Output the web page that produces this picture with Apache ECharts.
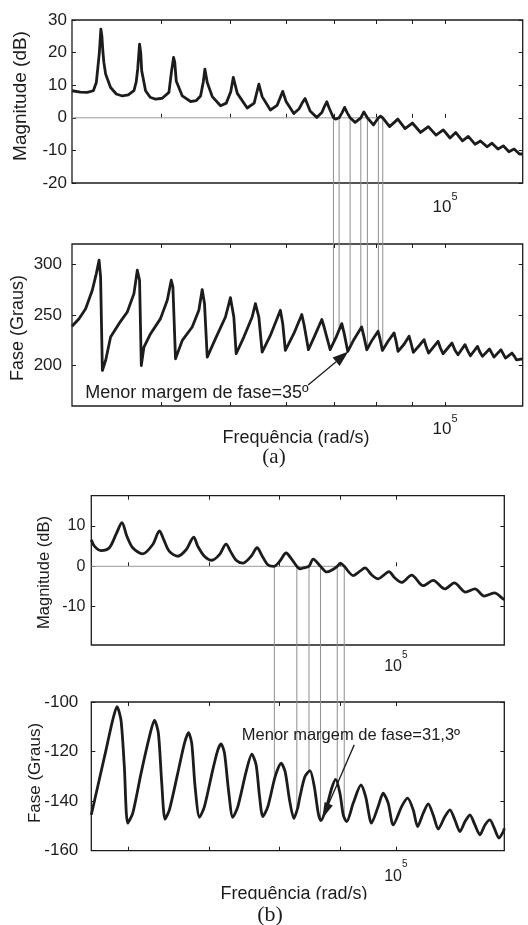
<!DOCTYPE html>
<html><head><meta charset="utf-8">
<script src="https://cdn.jsdelivr.net/npm/echarts@6/dist/echarts.min.js"></script>
<style>html,body{margin:0;padding:0;background:#fff}#c{width:528px;height:925px}</style>
</head><body><div id="c"></div>
<script>
// ---------- data (frequency in rad/s, value) ----------
const rangeA = [30000, 128500];
const rangeB = [55900, 123000];
const xTicksA = [40000, 50000, 60000, 70000, 80000, 90000, 100000];
const xTicksB = [60000, 70000, 80000, 90000, 100000];
const yTicksMagA = [-20, -10, 0, 10, 20, 30];
const yTicksPhaseA = [200, 250, 300];
const yTicksMagB = [-10, 0, 10];
const yTicksPhaseB = [-160, -140, -120, -100];
const yRangeMagA = [-20, 30];
const yRangePhaseA = [160, 320];
const yRangeMagB = [-19.5, 17.5];
const yRangePhaseB = [-160, -100];

const magA = [[30000,8.3],[30820,7.9],[31520,7.8],[32140,8.3],[32450,10.8],[32610,15.4],[32770,20],[32930,27.2],[33040,25],[33140,20.5],[33250,17],[33440,13.4],[33980,9.3],[34610,7.3],[35290,6.7],[35970,7.0],[36640,8.3],[36910,11],[37090,15],[37310,22.6],[37450,20],[37570,14.4],[38040,8.3],[38610,6.3],[39290,5.7],[40140,6.0],[41020,7.8],[41370,14.4],[41640,18.5],[41800,17],[42000,11.3],[42830,6.7],[43990,5.0],[44810,5.3],[45430,6.7],[45830,11],[46070,14.9],[46420,10.8],[47180,6.5],[48460,3.7],[49360,4.5],[50080,8],[50490,12.4],[51150,7.5],[52810,3.0],[54010,4.5],[54830,10.3],[55420,6.5],[56910,2.4],[58150,3.8],[59230,8.1],[59870,5],[61380,1.3],[62450,2.8],[63160,4.8],[63660,5.9],[64180,4.0],[64700,2.1],[66110,0.1],[67190,1.6],[67800,3.6],[68280,4.9],[68800,3.0],[69760,0],[70250,-0.4],[71050,0],[71740,1.6],[72320,3.2],[72910,1.6],[73620,0],[74820,-1.4],[76200,0],[76960,1.8],[77840,0],[79370,-2.2],[80650,0],[81220,0.5],[81800,0],[83620,-2.7],[85870,-0.4],[87900,-3.3],[90000,-1.6],[92420,-4.5],[94760,-2.7],[97140,-5.3],[99450,-3.7],[101630,-6.2],[103510,-4.5],[105800,-7.1],[107800,-5.7],[110160,-8.1],[112130,-7.1],[114510,-8.9],[116360,-7.8],[118640,-9.6],[120690,-8.6],[122930,-10.4],[125000,-9.6],[127150,-11.1],[128500,-11.1]];

const phaseA = [[30000,238.7],[30690,246.2],[31350,256.1],[32030,274.3],[32450,290.8],[32740,304],[32900,287.5],[33090,195.1],[33440,205],[33980,228.1],[34910,241.3],[35860,252.9],[36640,271],[37040,294.1],[37310,284.2],[37520,200],[37840,218.2],[38660,231.4],[39920,246.3],[40800,264.4],[41330,284.2],[41550,277.6],[41900,206.6],[42830,224.8],[44220,238],[45180,254.5],[45670,275],[46010,261.1],[46420,208.3],[47670,226.5],[49230,247.9],[50030,267],[50580,247.9],[50960,211.6],[52240,228.1],[53660,247.9],[54230,261.1],[54830,247.9],[55420,213.3],[56910,229.7],[58780,254.5],[59230,241.3],[59730,214.9],[61380,231.4],[62990,250.4],[63460,240],[64350,215.6],[65540,228],[67190,245.4],[67690,238],[69020,215.6],[70370,228],[71670,241.4],[72200,232],[73070,213.9],[74570,226],[76400,238.1],[76890,230],[77690,215.6],[79030,225],[80570,233.8],[81090,226],[81700,214.9],[83210,224],[84840,232.2],[85390,224],[85940,213.9],[87620,221],[89040,228.9],[89620,222],[90280,212.9],[91970,219.5],[93460,225.5],[94070,219],[94830,212.3],[97770,223.9],[98560,217],[99360,211.6],[102280,222.2],[103280,215],[104280,210.6],[106660,220.6],[107700,214],[108570,209.6],[111050,218.9],[111950,213],[112850,209],[115430,216.3],[116360,212],[117120,208.3],[119790,215.6],[120760,211],[121550,207.3],[124120,212.3],[125120,209],[125930,205.5],[128500,206.5]];

const magB = [[55900,6.6],[56230,5.0],[56940,3.9],[57860,4.6],[58600,7.9],[59270,10.8],[59840,7.4],[60500,4.6],[61660,3.1],[62860,5.4],[63670,8.8],[64190,6.6],[64890,3.7],[65930,2.5],[66990,4.1],[67980,7.2],[68500,5.0],[69380,2.5],[70360,1.5],[71400,2.9],[72310,5.5],[72920,3.7],[73710,1.5],[74650,0.8],[75850,2.5],[76720,4.6],[77420,2.7],[78310,0.4],[79210,0.0],[80080,1.2],[81090,3.3],[81980,1.7],[82770,0],[83260,-0.6],[84000,-0.3],[84710,0],[85400,1.8],[86590,0],[87620,-1.4],[88500,-0.9],[89410,0],[89960,0.8],[90610,0],[92180,-2.3],[93370,-1.2],[94270,-0.4],[95460,-2.1],[96670,-3.1],[97790,-2.1],[98670,-1.3],[99810,-2.9],[101100,-4.0],[103050,-2.2],[105350,-4.8],[107390,-3.5],[109810,-5.6],[111790,-4.1],[114250,-6.4],[116290,-5.6],[118380,-7.4],[120670,-6.6],[122760,-8.1],[123000,-8.2]];

const phaseB = [[55900,-145.5],[56590,-134.1],[57490,-119.4],[58230,-107.3],[58710,-101.9],[59160,-107.3],[59540,-126.1],[59920,-148.9],[60500,-144.9],[61470,-128.8],[62460,-114],[63060,-107.3],[63540,-112.6],[63950,-132.8],[64350,-147.3],[64890,-143.5],[65930,-128.8],[66780,-116.7],[67300,-112.4],[67720,-116.7],[68150,-134.1],[68730,-146.5],[69380,-142.2],[70490,-127.4],[71170,-119.4],[71620,-116.9],[72090,-120.7],[72640,-135.5],[73240,-146.5],[73950,-142.2],[75130,-128.1],[75950,-121],[76580,-125.4],[77080,-138.2],[77560,-146.2],[78310,-142.2],[79410,-130.1],[80320,-124.7],[80940,-128.1],[81620,-139.5],[82300,-147],[82930,-142.5],[83260,-138.2],[84060,-130.1],[84870,-127.7],[85570,-134.1],[86220,-144.9],[86670,-147.9],[87620,-142.2],[88460,-134.8],[89140,-131.2],[89870,-136.8],[90440,-145.6],[91030,-148.3],[92180,-140.8],[93550,-133.5],[94390,-138.2],[95460,-148.9],[96670,-142.2],[97600,-136.8],[98540,-140.8],[99490,-149.6],[101100,-142.2],[102260,-138.8],[103360,-143.5],[104230,-150.3],[105350,-144.9],[106370,-141.1],[107390,-145.6],[108420,-151.3],[109810,-146.2],[110870,-143.5],[111930,-147.6],[113010,-152.3],[114090,-148.3],[115190,-145.6],[116290,-149.6],[117410,-153.6],[118540,-149.6],[119680,-147.6],[120670,-150.9],[121760,-154.9],[122760,-152.3],[123000,-151]];

// 0 dB crossing frequencies (vertical guide lines)
const crossA = [69760, 71050, 73620, 76200, 77840, 80650, 81800];
const crossB = [79290, 82770, 84710, 86590, 89410, 90610];

// annotations: [freq, value]
const noteTextA = 'Menor margem de fase=35º';
const noteAtA = [31320, 173.2];
const arrowTailA = [64290, 180.8];
const arrowTipA = [73210, 213.9];
const noteTextB = 'Menor margem de fase=31,3º';
const noteAtB = [74510, -113.3];
const arrowTailB = [92350, -117.3];
const arrowTipB = [86900, -147];

// ---------- chart ----------
const FONT = '"Liberation Sans", Arial, Helvetica, sans-serif';
const INK = '#1c1c1c';
const grids = [
  {left: 72, top: 20, width: 450.7, height: 163},
  {left: 72, top: 244, width: 450.7, height: 162},
  {left: 91.3, top: 495.7, width: 413, height: 149.3},
  {left: 91.3, top: 702, width: 413, height: 148.7}
];
const panels = [
  {range: rangeA, ticks: xTicksA, yr: yRangeMagA, yt: yTicksMagA, ym: 5, fs: 17, xm: 8, xfs: 17},
  {range: rangeA, ticks: xTicksA, yr: yRangePhaseA, yt: yTicksPhaseA, ym: 10, fs: 17, xm: 7, xfs: 17},
  {range: rangeB, ticks: xTicksB, yr: yRangeMagB, yt: yTicksMagB, ym: 6, fs: 16, xm: 5, xfs: 16},
  {range: rangeB, ticks: xTicksB, yr: yRangePhaseB, yt: yTicksPhaseB, ym: 13, fs: 17, xm: 9, xfs: 16}
];

const xAxis = [], yAxis = [];
panels.forEach((p, i) => {
  xAxis.push({
    gridIndex: i, type: 'log', logBase: 10, min: p.range[0], max: p.range[1], position: 'bottom',
    axisLine: {show: false}, axisTick: {show: false}, splitLine: {show: false},
    axisLabel: {
      interval: 0, margin: p.xm, color: INK,
      formatter: v => Math.abs(v - 100000) < 1 ? '{b|10}{s|5}' : '',
      rich: {
        b: {fontSize: p.xfs, fontFamily: FONT, color: INK, lineHeight: 25, verticalAlign: 'bottom'},
        s: {fontSize: Math.round(p.xfs * 0.65), fontFamily: FONT, color: INK, lineHeight: 10, verticalAlign: 'top'}
      }
    }
  });
  ['bottom', 'top'].forEach(pos => xAxis.push({
    gridIndex: i, type: 'value', min: Math.log10(p.range[0]), max: Math.log10(p.range[1]), position: pos,
    axisLine: {show: false}, splitLine: {show: false}, axisLabel: {show: false},
    axisTick: {show: true, inside: true, length: 4, lineStyle: {color: INK, width: 1},
      customValues: p.ticks.map(t => Math.log10(t))}
  }));
  ['left', 'right'].forEach(pos => yAxis.push({
    gridIndex: i, type: 'value', min: p.yr[0], max: p.yr[1], position: pos,
    axisLine: {show: false}, splitLine: {show: false},
    axisTick: {show: true, inside: true, length: 4, lineStyle: {color: INK, width: 1}, customValues: p.yt},
    axisLabel: {show: pos === 'left', customValues: p.yt, margin: p.ym, fontSize: p.fs, fontFamily: FONT, color: INK}
  }));
});

const curve = (data, xi, yi, smooth) => ({
  type: 'line', xAxisIndex: xi, yAxisIndex: yi, data, showSymbol: false, symbol: 'none',
  smooth: smooth || false, lineStyle: {color: INK, width: 2.8, join: 'round'}, z: 5, silent: true
});
const zeroLine = (x0, x1, xi, yi) => ({
  type: 'line', xAxisIndex: xi, yAxisIndex: yi, data: [[x0, 0], [x1, 0]], showSymbol: false, symbol: 'none',
  lineStyle: {color: '#9a9a9a', width: 1}, z: 3, silent: true
});

const option = {
  animation: false,
  backgroundColor: '#fff',
  grid: grids.map(g => Object.assign({show: true, borderColor: INK, borderWidth: 1.3, backgroundColor: 'transparent'}, g)),
  xAxis, yAxis,
  series: [
    curve(magA, 0, 0),
    zeroLine(rangeA[0], crossA[crossA.length - 1], 0, 0),
    curve(phaseA, 3, 2),
    curve(magB, 6, 4, 0.3),
    zeroLine(rangeB[0], crossB[crossB.length - 1], 6, 4),
    curve(phaseB, 9, 6, 0.25)
  ]
};

const chart = echarts.init(document.getElementById('c'), null, {renderer: 'canvas'});
chart.setOption(option);

function interpLog(data, f) {
  for (let i = 0; i < data.length - 1; i++) {
    const [f0, v0] = data[i], [f1, v1] = data[i + 1];
    if (f >= f0 && f <= f1) {
      const t = (Math.log(f) - Math.log(f0)) / (Math.log(f1) - Math.log(f0));
      return v0 + t * (v1 - v0);
    }
  }
  return data[data.length - 1][1];
}
const P = (si, pt) => chart.convertToPixel({seriesIndex: si}, pt);

const els = [];
function guides(cross, magSi, phSi, phData) {
  cross.forEach(f => {
    const a = P(magSi, [f, 0]);
    const b = P(phSi, [f, interpLog(phData, f)]);
    els.push({type: 'line', z: 1, silent: true, shape: {x1: a[0], y1: a[1], x2: b[0], y2: b[1]},
      style: {stroke: '#8f8f8f', lineWidth: 1}});
  });
}
guides(crossA, 0, 2, phaseA);
guides(crossB, 3, 5, phaseB);

function arrow(p0, p1, len, w) {
  const dx = p1[0] - p0[0], dy = p1[1] - p0[1], L = Math.hypot(dx, dy);
  const ux = dx / L, uy = dy / L, bx = p1[0] - ux * len, by = p1[1] - uy * len, nx = -uy, ny = ux;
  els.push({type: 'line', z: 20, silent: true, shape: {x1: p0[0], y1: p0[1], x2: bx, y2: by}, style: {stroke: INK, lineWidth: 1.3}});
  els.push({type: 'polygon', z: 20, silent: true, shape: {points: [[p1[0], p1[1]], [bx + nx * w / 2, by + ny * w / 2], [bx - nx * w / 2, by - ny * w / 2]]}, style: {fill: INK}});
}
arrow(P(2, arrowTailA), P(2, arrowTipA), 16, 11);
arrow(P(5, arrowTailB), P(5, arrowTipB), 16, 9);

function text(str, x, y, font, opts) {
  els.push(Object.assign({type: 'text', z: 20, silent: true, x, y,
    style: {text: str, font, fill: INK, align: 'center', verticalAlign: 'middle'}}, opts || {}));
}
const nA = P(2, noteAtA), nB = P(5, noteAtB);
els.push({type: 'text', z: 20, silent: true, x: nA[0], y: nA[1], style: {text: noteTextA, font: '18px ' + FONT, fill: INK, align: 'left', verticalAlign: 'middle'}});
els.push({type: 'text', z: 20, silent: true, x: nB[0], y: nB[1], style: {text: noteTextB, font: '16.5px ' + FONT, fill: INK, align: 'left', verticalAlign: 'middle'}});

text('Magnitude (dB)', 20.5, 96, '19px ' + FONT, {rotation: Math.PI / 2});
text('Fase (Graus)', 17.7, 328, '18px ' + FONT, {rotation: Math.PI / 2});
text('Frequência (rad/s)', 296, 438, '18px ' + FONT);
text('(a)', 274, 457, '21px "Liberation Serif", "Times New Roman", serif');
text('Magnitude (dB)', 44, 572.5, '16.5px ' + FONT, {rotation: Math.PI / 2});
text('Fase (Graus)', 35.7, 773, '17px ' + FONT, {rotation: Math.PI / 2});
text('Frequência (rad/s)', 294, 894, '18px ' + FONT);
els.push({type: 'rect', z: 21, silent: true, shape: {x: 200, y: 899.5, width: 190, height: 6}, style: {fill: '#fff'}});
text('(b)', 270, 915, '22px "Liberation Serif", "Times New Roman", serif');

chart.setOption({graphic: els});
</script>
</body></html>
